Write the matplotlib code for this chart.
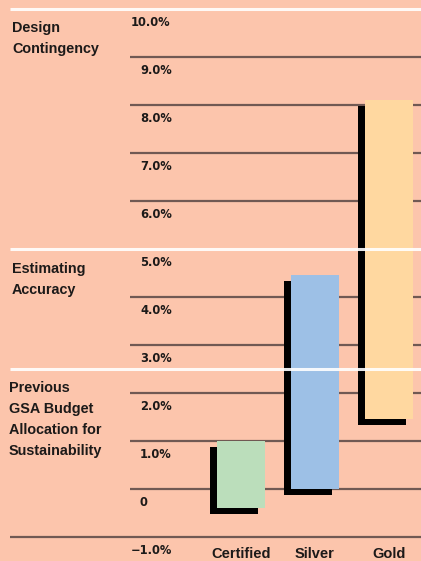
import matplotlib
matplotlib.use("Agg")
import matplotlib.pyplot as plt

# data
categories = ["Certified", "Silver", "Gold"]
low = [-0.4, 0.0, 1.45]
high = [1.0, 4.45, 8.1]
bar_colors = ["#BBDEBB", "#9DC0E6", "#FFD8A0"]
tick_values = [10, 9, 8, 7, 6, 5, 4, 3, 2, 1, 0, -1]
tick_labels = ["10.0%", "9.0%", "8.0%", "7.0%", "6.0%", "5.0%", "4.0%",
               "3.0%", "2.0%", "1.0%", "0", "\u22121.0%"]
groups = ["Design\nContingency", "Estimating\nAccuracy",
          "Previous\nGSA Budget\nAllocation for\nSustainability"]
group_tops = [9.75, 4.72, 2.24]
white_lines = [10, 5, 2.5]

BG = "#FCC5AC"
GRID = "#705953"
INK = "#1c1a19"
W, H = 421, 561

fig = plt.figure(figsize=(W / 100, H / 100), dpi=100, facecolor=BG)
ax = fig.add_axes([0, 0, 1, 1])
ax.set_facecolor(BG)
ax.axis("off")

# 74 px per category, 48 px per percent
ax.set_xlim(-241 / 74, 180 / 74)
ax.set_ylim(-1.5, 10 + 9 / 48)

xs = list(range(len(categories)))
width = 48 / 74
dx, dy = -7 / 74, -6 / 48

# dark gridlines
grid_x0 = (130 - 241) / 74
for v in tick_values:
    if v in white_lines:
        continue
    x0 = -3.12 if v == -1 else grid_x0
    ax.hlines(v, x0, 3, color=GRID, lw=1.6, zorder=1)

# shadows then bars
heights = [h - l for h, l in zip(high, low)]
ax.bar([x + dx for x in xs], heights, bottom=[l + dy for l in low],
       width=width, color="black", zorder=2)
ax.bar(xs, heights, bottom=low, width=width, color=bar_colors, zorder=3)

# white separators on top
for v in white_lines:
    ax.hlines(v, -3.12, 3, color="white", lw=2.2, alpha=0.9, zorder=4)

# tick labels
tx = ax.get_yaxis_transform()
for v, lab in zip(tick_values, tick_labels):
    xpx = 131 if lab in ("10.0%", "\u22121.0%") else 140
    ax.text(xpx / W, v - 13.5 / 48, lab, transform=tx, ha="left", va="center",
            fontsize=8.3, fontweight="bold", family="DejaVu Sans", color=INK)

# group labels
for txt, top in zip(groups, group_tops):
    xpx = 9 if txt.startswith("Previous") else 12
    ax.text(xpx / W, top, txt, transform=tx, ha="left", va="top",
            fontsize=10.4, fontweight="bold", family="Liberation Sans",
            color=INK, linespacing=1.62)

# category labels
for x, c in zip(xs, categories):
    ax.text(x, -1 - 16.5 / 48, c, ha="center", va="center", fontsize=10.5,
            fontweight="bold", family="Liberation Sans", color=INK)

fig.savefig("out.png", dpi=100, facecolor=BG)
